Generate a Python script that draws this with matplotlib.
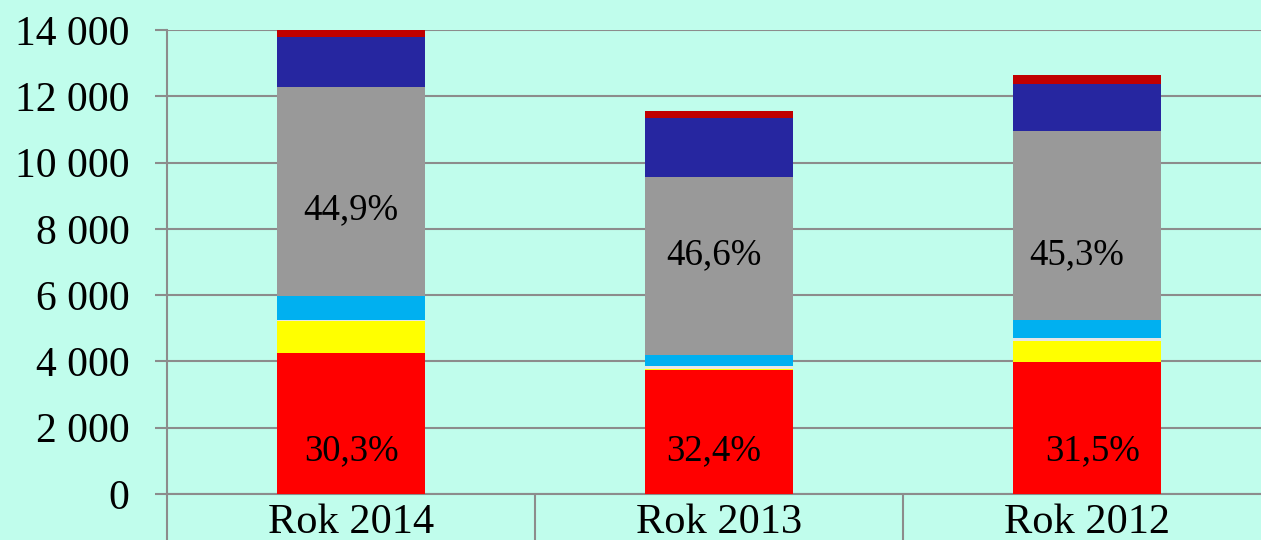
import matplotlib.pyplot as plt
from matplotlib.ticker import FuncFormatter, FixedLocator
import numpy as np

# data (bottom to top in each bar)
years = ['Rok 2014', 'Rok 2013', 'Rok 2012']
seg_red = [4242, 3744, 3985]
seg_yellow = [980, 20, 623]
seg_white = [25, 100, 91]
seg_lightblue = [738, 332, 542]
seg_gray = [6286, 5380, 5723]
seg_darkblue = [1521, 1758, 1406]
seg_darkred = [208, 211, 272]

red_labels = ['30,3%', '32,4%', '31,5%']
gray_labels = ['44,9%', '46,6%', '45,3%']
gray_label_y = [8570, 7200, 7200]
red_label_y = [1300, 1300, 1300]
red_dx = [0.0, -0.015, 0.015]
gray_dx = [0.0, -0.015, -0.027]

bg = '#c0fdec'
plt.rcParams['font.family'] = ['Liberation Serif', 'DejaVu Serif']

fig = plt.figure(figsize=(12.61, 5.40), dpi=100, facecolor=bg)
ax = fig.add_axes([167 / 1261, 46 / 540, 1104 / 1261, 464 / 540])
ax.set_facecolor(bg)

x = np.arange(len(years))
series = [
    (seg_red, '#ff0000'),
    (seg_yellow, '#ffff00'),
    (seg_white, '#e6e6e6'),
    (seg_lightblue, '#00b0f0'),
    (seg_gray, '#999999'),
    (seg_darkblue, '#2626a0'),
    (seg_darkred, '#c00000'),
]
bottom = np.zeros(len(years))
for vals, col in series:
    ax.bar(x, vals, width=0.4, bottom=bottom, color=col, zorder=3)
    bottom += np.array(vals)

for i in range(len(years)):
    ax.text(x[i] + red_dx[i], red_label_y[i], red_labels[i], ha='center', va='center',
            fontsize=26.5, zorder=4)
    ax.text(x[i] + gray_dx[i], gray_label_y[i], gray_labels[i], ha='center', va='center',
            fontsize=26.5, zorder=4)

ax.set_xlim(-0.5, 2.5)
ax.set_ylim(0, 14000)
ax.set_yticks(range(0, 14001, 2000))
ax.yaxis.set_major_formatter(FuncFormatter(lambda v, p: f'{int(v):,}'.replace(',', ' ')))
ax.grid(axis='y', color='#8c8c8c', linewidth=1.5, zorder=1)
ax.set_axisbelow(True)

ax.set_xticks(x)
ax.set_xticklabels(years)
ax.xaxis.set_minor_locator(FixedLocator([-0.5, 0.5, 1.5, 2.5]))
ax.tick_params(axis='x', which='major', length=0, pad=7, labelsize=30.5)
ax.tick_params(axis='x', which='minor', length=40, width=1.5, color='#8c8c8c')
ax.tick_params(axis='y', length=9, width=1.5, color='#8c8c8c', pad=18, labelsize=30)

for s in ['top', 'right']:
    ax.spines[s].set_visible(False)
for s in ['left', 'bottom']:
    ax.spines[s].set_color('#8c8c8c')
    ax.spines[s].set_linewidth(1.5)

fig.savefig('out.png', dpi=100, facecolor=bg)
